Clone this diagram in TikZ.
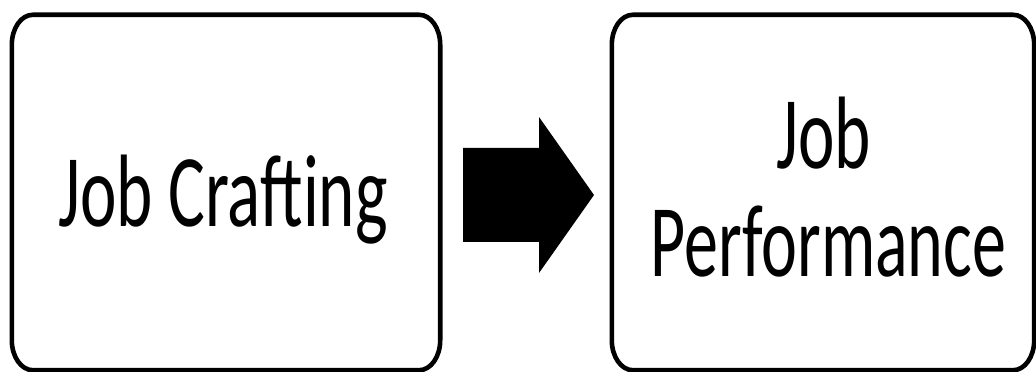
\documentclass[tikz,border=0pt]{standalone}
\usepackage{fontspec}
\setmainfont{Carlito}
\begin{document}
\begin{tikzpicture}[x=1pt,y=1pt,
  boxline/.style={line width=4.6pt, draw=black},
  lbl/.style={inner sep=0pt, anchor=base, font=\fontsize{103}{108}\selectfont},
  boxarea/.style={draw=none, inner sep=0pt, minimum width=#1, minimum height=355pt},
]
\useasboundingbox (0,0) rectangle (1036,372);
% invisible frames of the boxes
\node[boxarea=428pt] (crafting) at (226,179.5) {};
\node[boxarea=422pt] (perf) at (823,179.5) {};
% outlines with elliptic corners
\foreach \b in {crafting,perf}{
  \draw[boxline]
    ([xshift=21pt]\b.north west) -- ([xshift=-21pt]\b.north east)
    arc[start angle=90,end angle=0,x radius=21pt,y radius=30pt]
    -- ([yshift=30pt]\b.south east)
    arc[start angle=0,end angle=-90,x radius=21pt,y radius=30pt]
    -- ([xshift=21pt]\b.south west)
    arc[start angle=270,end angle=180,x radius=21pt,y radius=30pt]
    -- ([yshift=-30pt]\b.north west)
    arc[start angle=180,end angle=90,x radius=21pt,y radius=30pt]
    -- cycle;
}
% labels
\node[lbl] (t1) at (223,145) {\scalebox{0.67}[1]{Job Crafting}};
\node[lbl] (t2) at (823.5,203) {\scalebox{0.67}[1]{Job}};
\node[lbl] (t3) at (828.5,95) {\scalebox{0.66}[1]{Performance}};
% block arrow
\coordinate (arrtail) at (463,177);
\coordinate (arrtip) at (594,177);
\fill[black] ([yshift=47pt]arrtail) -- (539,224) -- (539,255) -- (arrtip)
  -- (539,99) -- (539,130) -- ([yshift=-47pt]arrtail) -- cycle;
\end{tikzpicture}
\end{document}
